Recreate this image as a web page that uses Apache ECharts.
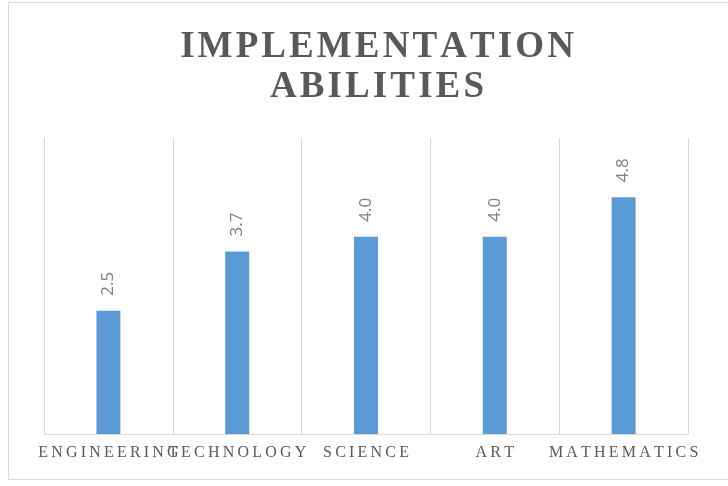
<!DOCTYPE html>
<html>
<head>
<meta charset="utf-8">
<script src="https://cdn.jsdelivr.net/npm/echarts@6/dist/echarts.min.js"></script>
<style>
  html, body { margin: 0; padding: 0; background: #fff; }
  #chart { width: 728px; height: 486px; }
</style>
</head>
<body>
<div id="chart"></div>
<script>
// data
var categories = ['ENGINEERING', 'TECHNOLOGY', 'SCIENCE', 'ART', 'MATHEMATICS'];
var scores = [2.5, 3.7, 4.0, 4.0, 4.8];
var titleLines = ['IMPLEMENTATION', 'ABILITIES'];

// no letterSpacing in canvas text, so pad letters with hair / thin spaces
function spaced(s, sp) {
    return s.split('').join(sp);
}

var chart = echarts.init(document.getElementById('chart'));
var option = {
    animation: false,
    graphic: [{
        type: 'rect',
        shape: { x: 8.5, y: 2.5, width: 740, height: 477 },
        style: { fill: 'none', stroke: '#d9d9d9', lineWidth: 1 },
        silent: true
    }],
    title: {
        text: titleLines.map(function (t) { return spaced(t, '\u200A'); }).join('\n'),
        left: 372,
        textAlign: 'center',
        top: 22,
        textStyle: {
            fontFamily: 'Liberation Serif',
            fontWeight: 'bold',
            fontSize: 37,
            lineHeight: 40,
            color: '#595959'
        }
    },
    grid: {
        left: 44,
        right: 40,
        top: 138,
        bottom: 52
    },
    xAxis: {
        type: 'category',
        data: categories,
        axisLine: { lineStyle: { color: '#d9d9d9', width: 1 } },
        axisTick: { show: false },
        splitLine: { show: true, lineStyle: { color: '#d9d9d9', width: 1 } },
        axisLabel: {
            interval: 0,
            margin: 11,
            fontFamily: 'Liberation Serif',
            fontSize: 16,
            color: '#595959',
            formatter: function (v) { return spaced(v, '\u2009'); }
        }
    },
    yAxis: {
        type: 'value',
        min: 0,
        max: 6,
        show: false,
        splitLine: { show: false }
    },
    series: [{
        type: 'bar',
        data: scores,
        barWidth: 24,
        itemStyle: { color: '#5b9bd5' },
        label: {
            show: true,
            position: 'top',
            distance: 15,
            rotate: 90,
            align: 'left',
            verticalAlign: 'middle',
            fontFamily: 'Open Sans',
            fontSize: 17,
            color: '#7f7f7f',
            formatter: function (p) { return p.value.toFixed(1); }
        }
    }]
};
chart.setOption(option);
</script>
</body>
</html>
